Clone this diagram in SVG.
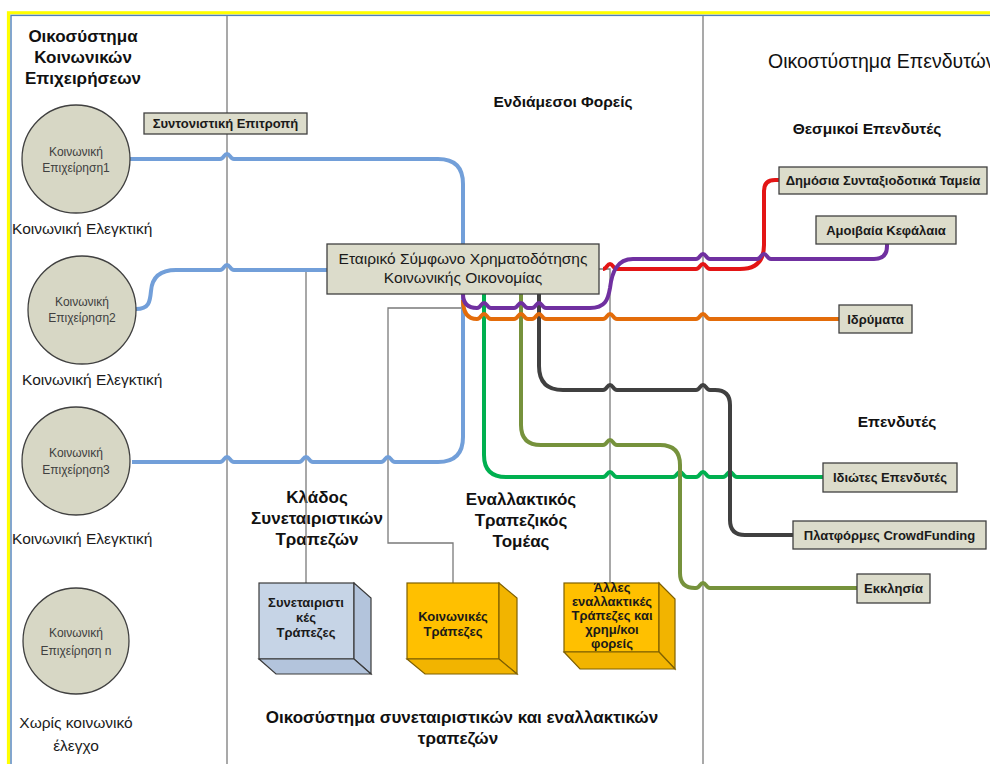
<svg xmlns="http://www.w3.org/2000/svg" width="990" height="764" viewBox="0 0 990 764">
<style>
.box{fill:#dcdccb;stroke:#404040;stroke-width:1.3}
.circ{fill:#d7d7c5;stroke:#404040;stroke-width:1.3}
.bt{font-family:"Liberation Sans",Arial,sans-serif;font-weight:bold;font-size:13px;fill:#1a1a1a;text-anchor:middle}
.ct{font-family:"Liberation Sans",Arial,sans-serif;font-size:12px;fill:#404040;text-anchor:middle}
.lt{font-family:"Liberation Sans",Arial,sans-serif;font-size:15.5px;fill:#1a1a1a}
.h{font-family:"Liberation Sans",Arial,sans-serif;font-weight:bold;font-size:17px;fill:#111;text-anchor:middle}
.h2{font-family:"Liberation Sans",Arial,sans-serif;font-weight:bold;font-size:15.5px;fill:#111;text-anchor:middle}
.sep{stroke:#8c8c8c;stroke-width:1.5;fill:none}
.thin{fill:none;stroke:#7a7a7a;stroke-width:1.3}
.c{fill:none;stroke-width:4;stroke-linecap:butt;stroke-linejoin:round}
.cubeB{fill:#c6d4e6;stroke:#3a3a3a;stroke-width:1.2}
.cubeBs{fill:#b3c4dc;stroke:#3a3a3a;stroke-width:1.2}
.cubeY{fill:#ffc000;stroke:#7f6000;stroke-width:1.2}
.cubeYs{fill:#f2b400;stroke:#7f6000;stroke-width:1.2}
</style>
<rect x="0" y="0" width="990" height="764" fill="#fff"/>
<!-- frame -->
<rect x="8.5" y="12.8" width="1000" height="800" fill="none" stroke="#ffff00" stroke-width="3.2"/>
<rect x="11" y="15.4" width="1000" height="800" fill="none" stroke="#4f81bd" stroke-width="1.4"/>
<line class="sep" x1="227" y1="16" x2="227" y2="764"/>
<line class="sep" x1="703" y1="16" x2="703" y2="764"/>

<!-- headings -->
<g id="labels">
<text class="h" x="83" y="42" font-size="19">Οικοσύστημα</text>
<text class="h" x="83" y="63" font-size="19">Κοινωνικών</text>
<text class="h" x="83" y="84" font-size="19">Επιχειρήσεων</text>
<text class="lt" x="12" y="234">Κοινωνική Ελεγκτική</text>
<text class="lt" x="22" y="385">Κοινωνική Ελεγκτική</text>
<text class="lt" x="12" y="544">Κοινωνική Ελεγκτική</text>
<text class="lt" x="76" y="728" text-anchor="middle">Χωρίς κοινωνικό</text>
<text class="lt" x="76" y="751" text-anchor="middle">έλεγχο</text>
<text class="h2" x="563" y="107">Ενδιάμεσοι Φορείς</text>
<text x="768" y="68" font-family="Liberation Sans, Arial, sans-serif" font-size="19.5" fill="#111">Οικοστύστημα Επενδυτών</text>
<text class="h2" x="867" y="134">Θεσμικοί Επενδυτές</text>
<text class="h2" x="897" y="427">Επενδυτές</text>
<text class="h" x="317" y="503">Κλάδος</text>
<text class="h" x="317" y="524">Συνεταιριστικών</text>
<text class="h" x="317" y="545">Τραπεζών</text>
<text class="h" x="521" y="505" font-size="18">Εναλλακτικός</text>
<text class="h" x="521" y="526" font-size="18">Τραπεζικός</text>
<text class="h" x="521" y="547" font-size="18">Τομέας</text>
<text class="h" x="462" y="723" font-size="18">Οικοσύστημα συνεταιριστικών και εναλλακτικών</text>
<text class="h" x="458" y="744" font-size="18">τραπεζών</text>
</g>

<!-- connectors -->
<g id="connectors">
<path class="thin" d="M327,270 L306,270 L306,583"/>
<path class="thin" d="M463,308 L388,308 L388,543 L453,543 L453,583"/>
<path class="thin" stroke="#1a1a1a" stroke-width="1" d="M599,269 L610,269 L610,584"/>
<path class="c" stroke="#729fd9" d="M130,159 L220,159 C224,159 224,154 227,154 C230,154 230,159 234,159 L438,159 Q463,159 463,184 L463,244"/>
<path class="c" stroke="#729fd9" d="M136,309 C149,309 150,302 151,291 C152,278 159,270 176,270 L220,270 C224,270 224,265 227,265 C230,265 230,270 234,270 L327,270"/>
<path class="c" stroke="#729fd9" d="M132,462 L220,462 C224,462 224,457 227,457 C230,457 230,462 234,462 L299,462 C303,462 303,457 306,457 C309,457 309,462 313,462 L381,462 C385,462 385,457 388,457 C391,457 391,462 395,462 L438,462 Q463,462 463,437 L463,294"/>
<path class="c" stroke="#00b050" d="M484,294 L484,455 Q484,477 506,477 L603,477 C607,477 607,472 610,472 C613,472 613,477 617,477 L673,477 C677,477 677,472 680,472 C683,472 683,477 687,477 L696,477 C700,477 700,472 703,472 C706,472 706,477 710,477 L723,477 C727,477 727,472 730,472 C733,472 733,477 737,477 L823,477"/>
<path class="c" stroke="#76923c" stroke-width="3.5" d="M521,294 L521,425 Q521,445 541,445 L603,445 C607,445 607,440 610,440 C613,440 613,445 617,445 L660,445 Q680,445 680,465 L680,573 Q680,588 695,588 L696,588 C700,588 700,583 703,583 C706,583 706,588 710,588 L857,588"/>
<path class="c" stroke="#404040" stroke-width="3.5" d="M539,294 L539,366 Q539,390 563,390 L603,390 C607,390 607,385 610,385 C613,385 613,390 617,390 L696,390 C700,390 700,385 703,385 C706,385 706,390 710,390 L715,390 Q730,390 730,405 L730,520 Q730,535 745,535 L793,535"/>
<path class="c" stroke="#e36c0a" d="M463,300 Q463,319 477,319 C481,319 481,314 484,314 C487,314 487,319 491,319 L514,319 C518,319 518,314 521,314 C524,314 524,319 528,319 L532,319 C536,319 536,314 539,314 C542,314 542,319 546,319 L603,319 C607,319 607,314 610,314 C613,314 613,319 617,319 L696,319 C700,319 700,314 703,314 C706,314 706,319 710,319 L839,319"/>
<path class="c" stroke="#e31515" stroke-width="4.5" d="M603,269 C607,269 607,264 610,264 C613,264 613,269 617,269 L696,269 C700,269 700,264 703,264 C706,264 706,269 710,269 L740,269 Q764,269 764,245 L764,191 Q764,180 775,180 L779,180"/>
<path class="c" stroke="#7030a0" stroke-width="4.5" d="M463,294 Q463,308 477,308 C481,308 481,303 484,303 C487,303 487,308 491,308 L514,308 C518,308 518,303 521,303 C524,303 524,308 528,308 L532,308 C536,308 536,303 539,303 C542,303 542,308 546,308 L590,308 C605,308 608,300 610,288 C612,272 617,259 633,259 L696,259 C700,259 700,254 703,254 C706,254 706,259 710,259 L757,259 C761,259 761,254 764,254 C767,254 767,259 771,259 L874,259 Q887,259 887,246 L887,244"/>
</g>

<!-- circles -->
<g id="se1"><circle class="circ" cx="76" cy="159" r="54"/><text class="ct" x="76" y="156">Κοινωνική</text><text class="ct" x="76" y="172">Επιχείρηση1</text></g>
<g id="se2"><circle class="circ" cx="82" cy="310" r="54"/><text class="ct" x="82" y="306">Κοινωνική</text><text class="ct" x="82" y="322">Επιχείρηση2</text></g>
<g id="se3"><circle class="circ" cx="76" cy="461" r="54"/><text class="ct" x="76" y="457">Κοινωνική</text><text class="ct" x="76" y="474">Επιχείρηση3</text></g>
<g id="sen"><circle class="circ" cx="76" cy="641" r="53"/><text class="ct" x="76" y="637">Κοινωνική</text><text class="ct" x="76" y="655">Επιχείρηση n</text></g>

<!-- boxes -->
<g id="syntonistiki"><rect class="box" x="144" y="113" width="163" height="21"/><text class="bt" x="225.5" y="128">Συντονιστική Επιτροπή</text></g>
<g id="etairiko"><rect class="box" x="327" y="244" width="272" height="50"/>
<text x="463" y="264" font-family="Liberation Sans, Arial, sans-serif" font-size="15.5" fill="#1a1a1a" text-anchor="middle">Εταιρικό Σύμφωνο Χρηματοδότησης</text>
<text x="463" y="283" font-family="Liberation Sans, Arial, sans-serif" font-size="15.5" fill="#1a1a1a" text-anchor="middle">Κοινωνικής Οικονομίας</text></g>
<g id="dimosia"><rect class="box" x="779" y="167" width="208" height="27"/><text class="bt" x="883" y="185">Δημόσια Συνταξιοδοτικά Ταμεία</text></g>
<g id="amoivaia"><rect class="box" x="816" y="216" width="140" height="28"/><text class="bt" x="886" y="234.5">Αμοιβαία Κεφάλαια</text></g>
<g id="idrymata"><rect class="box" x="839" y="305" width="73" height="28"/><text class="bt" x="875.5" y="323.5">Ιδρύματα</text></g>
<g id="idiotes"><rect class="box" x="823" y="463" width="134" height="29"/><text class="bt" x="890" y="482">Ιδιώτες Επενδυτές</text></g>
<g id="platformes"><rect class="box" x="793" y="521" width="193" height="28"/><text class="bt" x="889.5" y="539.5">Πλατφόρμες CrowdFunding</text></g>
<g id="ekklisia"><rect class="box" x="857" y="574" width="73" height="29"/><text class="bt" x="893.5" y="593">Εκκλησία</text></g>

<!-- cubes -->
<g id="cube-syn">
<rect class="cubeB" x="259" y="583" width="95" height="76"/>
<polygon class="cubeBs" points="354,583 371,598 371,674 354,659"/>
<polygon class="cubeBs" points="259,659 354,659 371,674 276,674"/>
<text class="bt" x="306" y="607">Συνεταιριστι</text><text class="bt" x="306" y="622">κές</text><text class="bt" x="306" y="637">Τράπεζες</text>
</g>
<g id="cube-koin">
<rect class="cubeY" x="407" y="583" width="92" height="76"/>
<polygon class="cubeYs" points="499,583 517,598 517,674 499,659"/>
<polygon class="cubeYs" points="407,659 499,659 517,674 425,674"/>
<text class="bt" x="453" y="621" font-size="13.5">Κοινωνικές</text><text class="bt" x="453" y="636" font-size="13.5">Τράπεζες</text>
</g>
<g id="cube-alles">
<rect class="cubeY" x="564" y="583" width="95" height="69"/>
<polygon class="cubeYs" points="659,583 675,599 675,669 659,652"/>
<polygon class="cubeYs" points="564,652 659,652 675,669 580,669"/>
<text class="bt" x="612" y="592" font-size="14">Άλλες</text><text class="bt" x="612" y="606" font-size="14">εναλλακτικές</text><text class="bt" x="612" y="620" font-size="14">Τράπεζες και</text><text class="bt" x="612" y="634" font-size="14">χρημ/κοι</text><text class="bt" x="612" y="648" font-size="14">φορείς</text>
</g>
</svg>
